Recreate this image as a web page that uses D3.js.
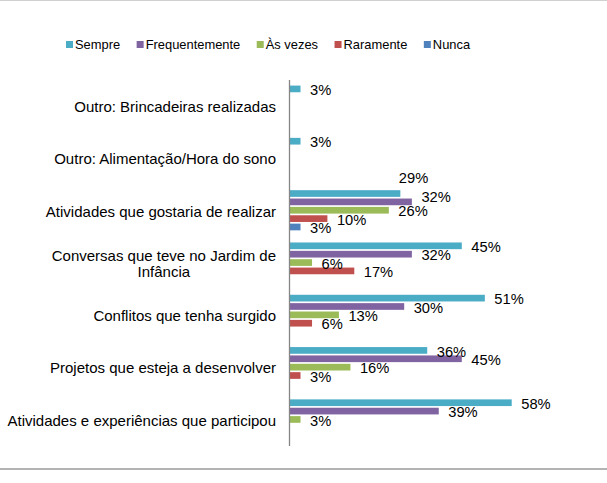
<!DOCTYPE html>
<html><head><meta charset="utf-8">
<script src="https://cdn.jsdelivr.net/npm/d3@7"></script>
<style>
html,body{margin:0;padding:0;background:#fff;}
svg{display:block;font-family:"Liberation Sans",Arial,sans-serif;}
</style></head>
<body><svg id="chart" width="607" height="483"></svg>
<script>
const categories = [
  "Outro: Brincadeiras realizadas",
  "Outro: Alimentação/Hora do sono",
  "Atividades que gostaria de realizar",
  "Conversas que teve no Jardim de Infância",
  "Conflitos que tenha surgido",
  "Projetos que esteja a desenvolver",
  "Atividades e experiências que participou"
];
const categoryLines = [
  ["Outro: Brincadeiras realizadas"],
  ["Outro: Alimentação/Hora do sono"],
  ["Atividades que gostaria de realizar"],
  ["Conversas que teve no Jardim de", "Infância"],
  ["Conflitos que tenha surgido"],
  ["Projetos que esteja a desenvolver"],
  ["Atividades e experiências que participou"]
];
const seriesNames = ["Sempre", "Frequentemente", "Às vezes", "Raramente", "Nunca"];
const seriesColors = ["#4BACC6", "#8064A2", "#9BBB59", "#C0504D", "#4F81BD"];
const sempre         = [3, 3, 29, 45, 51, 36, 58];
const frequentemente = [null, null, 32, 32, 30, 45, 39];
const asVezes        = [null, null, 26, 6, 13, 16, 3];
const raramente      = [null, null, 10, 17, 6, 3, null];
const nunca          = [null, null, 3, null, null, null, null];
const seriesValues = [sempre, frequentemente, asVezes, raramente, nunca];

const svg = d3.select("#chart");
const W = 607, H = 483;
const FS = "14.7px";
const CFS = "15px";

// frame lines
svg.append("line").attr("x1",0).attr("x2",W).attr("y1",0.5).attr("y2",0.5)
  .attr("stroke","#d0d0d0").attr("stroke-width",1);
svg.append("line").attr("x1",0).attr("x2",W).attr("y1",469).attr("y2",469)
  .attr("stroke","#b3b3b3").attr("stroke-width",2);

const x = d3.scaleLinear().domain([0, 70]).range([289, 289 + 70 * 3.84]);
const y0 = d3.scaleBand().domain(categories).range([79.5, 445.6]).padding(0);
const y1 = d3.scaleBand().domain(seriesNames).range([4.4, 47.9]).padding(0.2);

const data = [];
categories.forEach((c, i) => {
  seriesNames.forEach((s, j) => {
    const v = seriesValues[j][i];
    if (v != null) data.push({cat: c, ci: i, series: s, si: j, value: v});
  });
});

// label nudges (to avoid overlap as in the original)
const nudge = {"2-0": [-11, -17], "2-1": [0, -6]};

const g = svg.append("g");
g.selectAll("rect.bar").data(data).enter().append("rect")
  .attr("class","bar")
  .attr("x", x(0))
  .attr("y", d => y0(d.cat) + y1(d.series))
  .attr("width", d => x(d.value) - x(0))
  .attr("height", y1.bandwidth())
  .attr("fill", d => seriesColors[d.si]);

g.selectAll("text.val").data(data).enter().append("text")
  .attr("class","val")
  .attr("x", d => x(d.value) + 9.5 + ((nudge[d.ci+"-"+d.si]||[0,0])[0]))
  .attr("y", d => y0(d.cat) + y1(d.series) + y1.bandwidth()/2 + 1 + ((nudge[d.ci+"-"+d.si]||[0,0])[1]))
  .attr("dy","0.35em")
  .attr("font-size",FS)
  .attr("fill","#000")
  .text(d => d.value + "%");

// axis
const axis = d3.axisLeft(y0).tickSize(0).tickFormat("");
const ax = svg.append("g").attr("transform", `translate(${x(0)},0)`).call(axis);
ax.select(".domain").attr("stroke","#868686").attr("stroke-width",1.3);

// category labels
categories.forEach((c, i) => {
  const lines = categoryLines[i];
  const cy = y0(c) + y0.bandwidth()/2 + 1;
  const lh = 15.5;
  const t = svg.append("text")
    .attr("font-size",CFS).attr("fill","#000");
  if (lines.length === 1) {
    t.attr("x", 276).attr("y", cy).attr("dy","0.35em").attr("text-anchor","end").text(lines[0]);
  } else {
    const tmp = svg.append("text").attr("font-size",CFS).text(lines[0]);
    const w = tmp.node().getComputedTextLength();
    tmp.remove();
    const cx = 276 - w/2;
    lines.forEach((ln, k) => {
      t.append("tspan").attr("x", cx).attr("text-anchor","middle")
        .attr("y", cy + (k - (lines.length-1)/2) * lh).attr("dy","0.35em").text(ln);
    });
  }
});

// legend
const leg = svg.append("g");
let lx = 66;
seriesNames.forEach((s, j) => {
  leg.append("rect").attr("x", lx).attr("y", 41).attr("width", 7).attr("height", 7)
    .attr("fill", seriesColors[j]);
  const tt = leg.append("text").attr("x", lx + 9).attr("y", 44.5).attr("dy","0.35em")
    .attr("font-size","12.9px").attr("fill","#000").text(s);
  lx += 9 + tt.node().getComputedTextLength() + 16.5;
});
</script></body></html>
